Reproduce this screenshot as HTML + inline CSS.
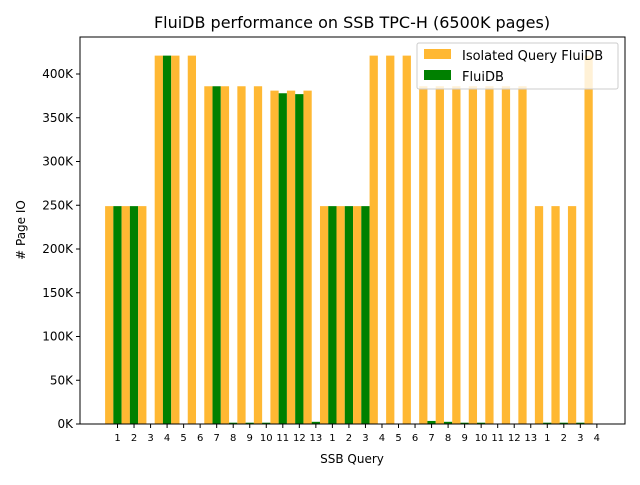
<!DOCTYPE html>
<html><head><meta charset="utf-8"><style>
body{margin:0;background:#fff;}
svg{font-family:"DejaVu Sans","Liberation Sans",sans-serif;}
</style></head><body>
<svg id="chart" width="640" height="480" xmlns="http://www.w3.org/2000/svg">
<rect width="640" height="480" fill="#fff"/>
<text x="352" y="28" font-size="16" text-anchor="middle">FluiDB performance on SSB TPC-H (6500K  pages)</text>
<g id="bars"></g>
<g id="axes"></g>
<text x="352" y="463" font-size="12" text-anchor="middle">SSB Query</text>
<text x="25" y="230" font-size="12" text-anchor="middle" transform="rotate(-90 25 230)"># Page IO</text>
<g>
<rect x="417" y="43" width="201" height="46" fill="#fff" fill-opacity="0.8" stroke="#ccc" rx="2"/>
<rect x="424" y="49" width="27" height="10" fill="#ffb833"/>
<text x="462" y="60" font-size="13">Isolated Query FluiDB</text>
<rect x="424" y="70" width="27" height="10" fill="#008000"/>
<text x="462" y="81" font-size="13">FluiDB</text>
</g>
</svg>
<script>
const categories=["1","2","3","4","5","6","7","8","9","10","11","12","13","1","2","3","4","5","6","7","8","9","10","11","12","13","1","2","3","4"];
const isolatedValues=[249,249,249,421,421,421,386,386,386,386,381,381,381,249,249,249,421,421,421,386,386,386,386,386,386,386,249,249,249,421];
const fluidbValues=[249,249,0,421,0,0,386,1.5,1.5,1.5,378,377,2.5,249,249,249,0,0,0,3.5,2.5,1.5,1.5,0,0,0,1.5,1.5,1.5,0];
const yTicks=[0,50,100,150,200,250,300,350,400];
const ns="http://www.w3.org/2000/svg";
const L=80,R=625,T=37,B=424;
const S=16.53;
function xs(i){return 117.5+i*S;}
function ys(v){return B-v*0.875;}
const bars=document.getElementById('bars'),axes=document.getElementById('axes');
function mk(tag,attrs,parent){const e=document.createElementNS(ns,tag);for(const k in attrs)e.setAttribute(k,attrs[k]);parent.appendChild(e);return e;}
categories.forEach((c,i)=>{
 const a=mk('rect',{x:xs(i)-12.4,y:ys(isolatedValues[i]),width:S/2,height:B-ys(isolatedValues[i]),fill:'#ffb833'},bars);
 
 
 const g=mk('rect',{x:xs(i)-4.15,y:ys(fluidbValues[i]),width:S/2,height:B-ys(fluidbValues[i]),fill:'#008000'},bars);
 
 
 mk('line',{x1:xs(i),x2:xs(i),y1:B,y2:B+4,stroke:'#000'},axes);
 const t=mk('text',{x:xs(i),y:B+17,'font-size':10,'text-anchor':'middle'},axes);
 t.textContent=c;
 
 
});
yTicks.forEach(v=>{
 mk('line',{x1:L-4,x2:L,y1:ys(v),y2:ys(v),stroke:'#000'},axes);
 const t=mk('text',{x:L-7,y:ys(v)+4,'font-size':12,'text-anchor':'end'},axes);
 t.textContent=v+'K';
 
 
});
const f=mk('rect',{x:L,y:T,width:R-L,height:B-T,fill:'none',stroke:'#000','stroke-width':1},axes);


</script>
</body></html>
